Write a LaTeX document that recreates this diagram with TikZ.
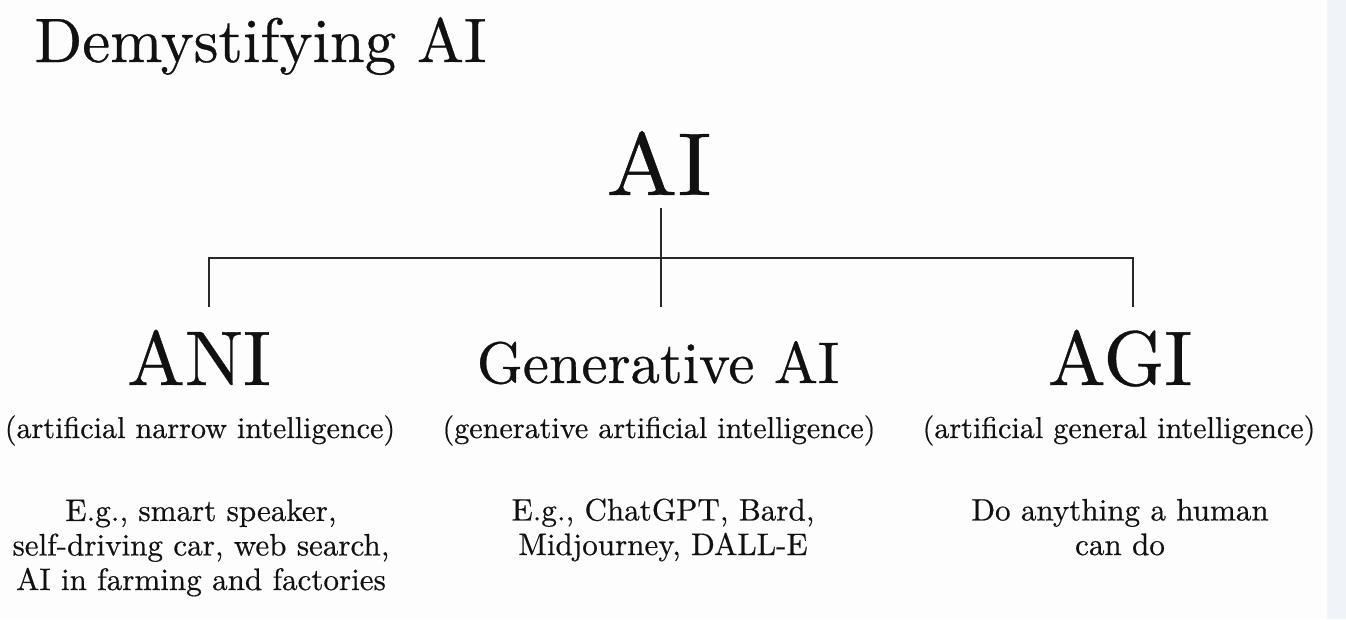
\documentclass[tikz,border=0pt]{standalone}
\usepackage{fontspec}
\setmainfont{lmroman10-regular.otf}
\definecolor{bgcol}{RGB}{253,253,253}
\definecolor{stripcol}{RGB}{240,244,249}
\definecolor{ink}{RGB}{17,17,17}
\definecolor{linecol}{RGB}{40,40,40}
\newcommand{\myfnt}[3]{\fontsize{#1}{#2}\selectfont\addfontfeatures{FakeStretch=#3,FakeBold=0.5}}
\tikzset{
  lbl/.style={inner sep=0pt, outer sep=0pt, text=ink, anchor=base},
  titlefont/.style={font=\myfnt{47}{52}{1.0}},
  rootfont/.style={font=\myfnt{67}{72}{1.057}},
  headfont/.style={font=\myfnt{58}{62}{1.0}},
  genfont/.style={font=\myfnt{44}{48}{1.0}},
  subfont/.style={font=\myfnt{22.6}{26}{1.0}},
  exfont/.style={font=\myfnt{23.3}{25.9}{1.0}, align=center},
  conn/.style={draw=linecol, line width=1.4pt}
}
\begin{document}
\begin{tikzpicture}[x=0.75pt,y=-0.75pt]
\useasboundingbox (0,0) rectangle (1346,619);
\fill[bgcol] (0,0) rectangle (1346,619);
\fill[stripcol] (1327,0) rectangle (1346,619);

\node[lbl, titlefont, anchor=base west] (title) at (34.5,62) {Demystifying AI};

\node[lbl, rootfont] (ai) at (659,195) {AI};

\node[lbl, headfont] (ani) at (199,385) {ANI};
\node[lbl, genfont] (gen) at (658,383) {Generative AI};
\node[lbl, headfont] (agi) at (1120,385) {AGI};

\node[lbl, subfont] (anisub) at (200,438) {(artificial narrow intelligence)};
\node[lbl, subfont] (gensub) at (659,438) {(generative artificial intelligence)};
\node[lbl, subfont] (agisub) at (1119,438) {(artificial general intelligence)};

\node[lbl, exfont] (aniex) at (201,590) {E.g., smart speaker,\\self-driving car, web search,\\AI in farming and factories};
\node[lbl, exfont] (genex) at (663,555) {E.g., ChatGPT, Bard,\\Midjourney, DALL-E};
\node[lbl, exfont] (agiex) at (1120,555) {Do anything a human\\can do};

\coordinate (aitop) at (661,208);
\coordinate (ctip) at (661,307);
\coordinate (lcorner) at (209,258);
\coordinate (rcorner) at (1133,258);
\coordinate (ltip) at (209,307);
\coordinate (rtip) at (1133,307);

\draw[conn] (aitop) -- (ctip);
\draw[conn] (ltip) -- (lcorner) -- (rcorner) -- (rtip);
\end{tikzpicture}
\end{document}
